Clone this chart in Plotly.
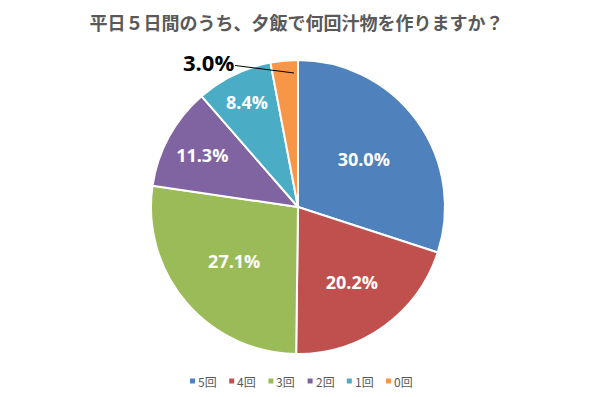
import plotly.graph_objects as go

labels = ["5回", "4回", "3回", "2回", "1回", "0回"]
values = [30.0, 20.2, 27.1, 11.3, 8.4, 3.0]
colors = ["#4F81BD", "#C0504D", "#9BBB59", "#8064A2", "#4BACC6", "#F79646"]
title = "平日５日間のうち、夕飯で何回汁物を作りますか？"

W, H = 599, 397
cx, cy, r = 298, 207, 147

textpos = ["inside"] * (len(values) - 1) + ["none"]

fig = go.Figure(go.Pie(
    labels=labels,
    values=values,
    sort=False,
    direction="clockwise",
    rotation=0,
    marker=dict(colors=colors, line=dict(color="white", width=2)),
    texttemplate="%{value:.1f}%",
    textposition=textpos,
    insidetextorientation="horizontal",
    textfont=dict(family="Open Sans", size=18, color="white", weight="bold"),
    domain=dict(x=[(cx - r) / W, (cx + r) / W], y=[(H - cy - r) / H, (H - cy + r) / H]),
    hoverinfo="label+percent",
    showlegend=False,
))

# outside label for the smallest slice with leader line
fig.add_annotation(
    x=294 / W, y=(H - 73) / H, xref="paper", yref="paper",
    ax=-86, ay=-11,
    text="<b>%.1f%%</b>" % values[-1],
    showarrow=True, arrowhead=0, arrowwidth=1, arrowcolor="#000000",
    font=dict(family="Open Sans", size=22, color="#000000"),
)

# compact legend (square marker + label) along the bottom
leg_x0, leg_step, leg_y = 190, 39.2, 381
shapes = []
for i, (lab, col) in enumerate(zip(labels, colors)):
    x = leg_x0 + i * leg_step
    shapes.append(dict(
        type="rect", xref="paper", yref="paper",
        x0=x / W, x1=(x + 5) / W, y0=(H - leg_y - 2.5) / H, y1=(H - leg_y + 2.5) / H,
        fillcolor=col, line=dict(width=0),
    ))
    fig.add_annotation(
        x=(x + 6) / W, y=(H - leg_y) / H, xref="paper", yref="paper",
        xanchor="left", yanchor="middle", showarrow=False,
        text=lab,
        font=dict(family="Noto Sans CJK JP", size=12, color="#595959"),
    )

fig.update_layout(
    width=W, height=H,
    margin=dict(l=0, r=0, t=0, b=0),
    paper_bgcolor="white",
    plot_bgcolor="white",
    shapes=shapes,
    title=dict(
        text="<b>" + title + "</b>",
        x=296.5 / W, xanchor="center", y=1 - 24 / H, yanchor="middle",
        font=dict(family="Noto Sans CJK JP", size=18, color="#595959"),
    ),
)

fig.write_html("out.html", config={"displayModeBar": False},
               post_script="document.body.style.margin='0';")
